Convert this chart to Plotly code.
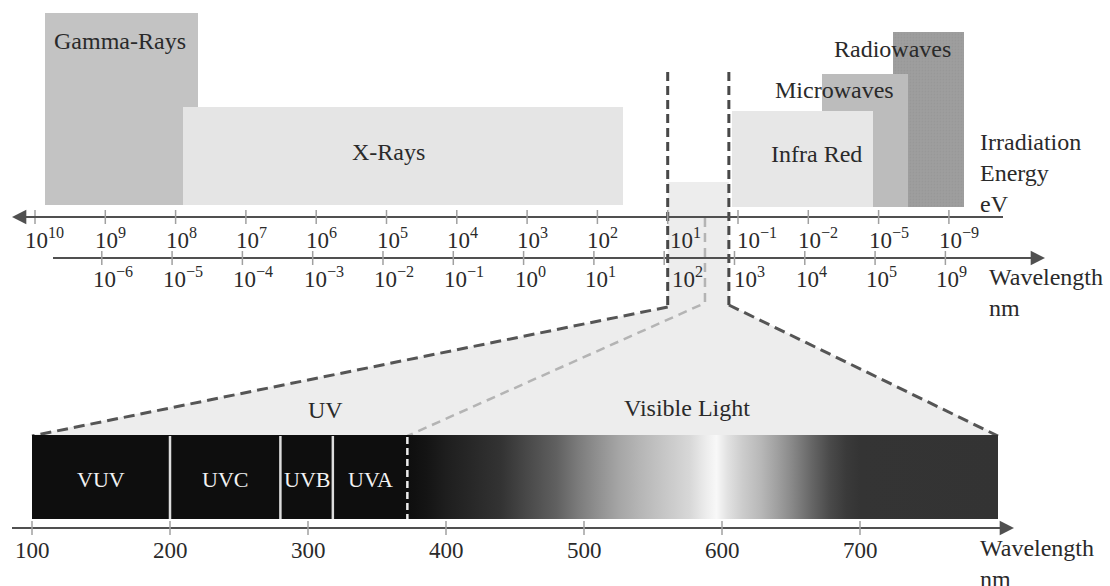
import plotly.graph_objects as go

W, H = 1110, 586

# ------------------------------------------------------------------ data
# upper scales: one tick per decade step (index 0..13)
energy_exponents = ["10", "9", "8", "7", "6", "5", "4", "3", "2", "1", "−1", "−2", "−5", "−9"]
wavelength_exponents = ["−6", "−5", "−4", "−3", "−2", "−1", "0", "1", "2", "3", "4", "5", "9"]

# spectral bands along the upper (tick index) scale
band_names = ["Gamma-Rays", "X-Rays", "Infra Red", "Microwaves", "Radiowaves"]
band_start = [0.14, 2.10, 9.91, 11.19, 12.20]
band_end = [2.32, 8.36, 11.92, 12.42, 13.21]

optical_window = [9.0, 9.87]      # UV + visible column on the upper scale
uv_visible_split = 9.53           # UV / visible boundary on the upper scale

# lower scale (nm)
nm_ticks = [100, 200, 300, 400, 500, 600, 700]
spectrum_range = [100, 800]
uv_names = ["VUV", "UVC", "UVB", "UVA"]
uv_edges = [100, 200, 280, 318, 372]

# brightness of the spectrum strip (0 = black, 255 = white)
grad_nm = [100, 372, 386, 400, 440, 460, 480, 495, 510, 525, 540, 560, 577, 588, 596,
           604, 615, 628, 640, 650, 665, 678, 690, 700, 800]
grad_gray = [14, 14, 20, 30, 51, 74, 96, 122, 144, 165, 181, 200, 216, 236, 248,
             226, 204, 184, 160, 138, 102, 74, 58, 52, 51]

# ------------------------------------------------------------------ layout / style
FONT = "Liberation Serif"
TXT = "#2a2a2a"
AX = "#505050"

XT_PX0, XT_STEP = 35.0, 70.3          # screen px of first upper tick, px per tick step
NM_PX0, NM_SCALE = 32.0, 1.38          # screen px of 100 nm, px per nm
xt_range = [(0 - XT_PX0) / XT_STEP, (W - XT_PX0) / XT_STEP]
xb_range = [100 - NM_PX0 / NM_SCALE, 100 + (W - NM_PX0) / NM_SCALE]


def nm_on_top(nm):
    f = (nm - xb_range[0]) / (xb_range[1] - xb_range[0])
    return xt_range[0] + f * (xt_range[1] - xt_range[0])


def top_from_px(px):
    return xt_range[0] + px / W * (xt_range[1] - xt_range[0])


def nm_from_px(px):
    return xb_range[0] + px / W * (xb_range[1] - xb_range[0])


band_style = {
    "Gamma-Rays": dict(top=13, bottom=205, color="#c3c3c3"),
    "X-Rays": dict(top=107, bottom=205, color="#e5e5e5"),
    "Infra Red": dict(top=111, bottom=207, color="#e7e7e7"),
    "Microwaves": dict(top=74, bottom=207, color="#bcbcbc"),
    "Radiowaves": dict(top=32, bottom=207, color="#9e9e9e"),
}
draw_order = ["Gamma-Rays", "X-Rays", "Radiowaves", "Microwaves", "Infra Red"]
band_label = {  # screen px of label, anchor
    "Gamma-Rays": (120, 41, "center"),
    "X-Rays": (389, 152, "center"),
    "Infra Red": (816, 154, "center"),
    "Microwaves": (896, 90, "right"),
    "Radiowaves": (953, 49, "right"),
}

Y_EAXIS, Y_WAXIS, Y_BAXIS = 217, 258, 528
BAR_TOP, BAR_BOT = 435, 519

fig = go.Figure()

# light optical window column + zoom trapezoid
w0, w1 = optical_window
fig.add_trace(go.Scatter(
    x=[w0, w1, w1, nm_on_top(spectrum_range[1]), nm_on_top(spectrum_range[0]), w0, w0],
    y=[182, 182, 305, BAR_TOP, BAR_TOP, 307, 182],
    fill="toself", fillcolor="#ededed", mode="lines", line=dict(width=0),
    xaxis="x", yaxis="y", hoverinfo="skip"))

# spectral bands
for name in draw_order:
    k = band_names.index(name)
    s = band_style[name]
    marker = dict(color=s["color"], line=dict(width=0))
    if name == "Radiowaves":
        marker["pattern"] = dict(shape=".", fgcolor="#929292", bgcolor=s["color"],
                                 size=3, solidity=0.3)
    fig.add_trace(go.Bar(
        x=[(band_start[k] + band_end[k]) / 2], width=[band_end[k] - band_start[k]],
        base=[s["bottom"]], y=[s["top"] - s["bottom"]],
        marker=marker, xaxis="x", yaxis="y", hoverinfo="skip"))

# dark dashed window borders and zoom lines
DASH_V = "9px,5px"
DASH_D = "11px,6px"
for xv, yb in [(w0, 307), (w1, 305)]:
    fig.add_trace(go.Scatter(x=[xv, xv], y=[72, yb], mode="lines",
                             line=dict(color="#484848", width=3, dash=DASH_V),
                             xaxis="x", yaxis="y", hoverinfo="skip"))
fig.add_trace(go.Scatter(x=[w0, nm_on_top(spectrum_range[0])], y=[307, BAR_TOP + 1], mode="lines",
                         line=dict(color="#555555", width=3, dash=DASH_D),
                         xaxis="x", yaxis="y", hoverinfo="skip"))
fig.add_trace(go.Scatter(x=[w1, nm_on_top(spectrum_range[1])], y=[305, BAR_TOP + 1], mode="lines",
                         line=dict(color="#555555", width=3, dash=DASH_D),
                         xaxis="x", yaxis="y", hoverinfo="skip"))
# light dashed UV / visible split
fig.add_trace(go.Scatter(x=[uv_visible_split, uv_visible_split, nm_on_top(uv_edges[-1])],
                         y=[218, 303, BAR_TOP + 1], mode="lines",
                         line=dict(color="#b4b4b4", width=2.5, dash="9px,6px"),
                         xaxis="x", yaxis="y", hoverinfo="skip"))

# axis lines of the upper scales
fig.add_trace(go.Scatter(x=[top_from_px(20), top_from_px(1003)], y=[Y_EAXIS, Y_EAXIS], mode="lines",
                         line=dict(color=AX, width=2.2), xaxis="x", yaxis="y", hoverinfo="skip"))
fig.add_trace(go.Scatter(x=[top_from_px(53), top_from_px(1036)], y=[Y_WAXIS, Y_WAXIS], mode="lines",
                         line=dict(color=AX, width=2.2), xaxis="x", yaxis="y", hoverinfo="skip"))

e_idx = list(range(len(energy_exponents)))
w_idx = [i + 1 - 0.05 for i in range(len(wavelength_exponents))]
fig.add_trace(go.Scatter(x=e_idx, y=[Y_EAXIS] * len(e_idx), mode="markers",
                         marker=dict(symbol="line-ns", size=10, line=dict(color="#a0a0a0", width=1.5)),
                         xaxis="x", yaxis="y", hoverinfo="skip"))
fig.add_trace(go.Scatter(x=w_idx, y=[Y_WAXIS] * len(w_idx), mode="markers",
                         marker=dict(symbol="line-ns", size=10, line=dict(color="#a0a0a0", width=1.5)),
                         xaxis="x", yaxis="y", hoverinfo="skip"))

# spectrum strip
cs = [[(n - spectrum_range[0]) / (spectrum_range[1] - spectrum_range[0]), f"rgb({g},{g},{g})"]
      for n, g in zip(grad_nm, grad_gray)]
a, b = spectrum_range
fig.add_trace(go.Scatter(
    x=[a, b, b, a, a], y=[BAR_TOP, BAR_TOP, BAR_BOT, BAR_BOT, BAR_TOP],
    fill="toself", mode="lines", line=dict(width=0),
    fillgradient=dict(type="horizontal", start=a, stop=b, colorscale=cs),
    xaxis="x2", yaxis="y", hoverinfo="skip"))
for e in uv_edges[1:-1]:
    fig.add_trace(go.Scatter(x=[e, e], y=[BAR_TOP + 1, BAR_BOT], mode="lines",
                             line=dict(color="#dddddd", width=2.5),
                             xaxis="x2", yaxis="y", hoverinfo="skip"))
fig.add_trace(go.Scatter(x=[uv_edges[-1]] * 2, y=[BAR_TOP + 2, BAR_BOT], mode="lines",
                         line=dict(color="#eeeeee", width=2.5, dash="7px,4px"),
                         xaxis="x2", yaxis="y", hoverinfo="skip"))

# bottom axis
fig.add_trace(go.Scatter(x=[nm_from_px(12), nm_from_px(1005)], y=[Y_BAXIS, Y_BAXIS], mode="lines",
                         line=dict(color=AX, width=2.2), xaxis="x2", yaxis="y", hoverinfo="skip"))
fig.add_trace(go.Scatter(x=nm_ticks, y=[Y_BAXIS] * len(nm_ticks), mode="markers",
                         marker=dict(symbol="line-ns", size=10, line=dict(color="#a0a0a0", width=1.5)),
                         xaxis="x2", yaxis="y", hoverinfo="skip"))

ann = []


def arrow(xref, x_tip, x_tail, y):
    ann.append(dict(xref=xref, yref="y", x=x_tip, y=y, axref=xref, ayref="y", ax=x_tail, ay=y,
                    text="", showarrow=True, arrowhead=2, arrowsize=1.3, arrowwidth=2.2,
                    arrowcolor=AX, standoff=0))


arrow("x", top_from_px(12), top_from_px(40), Y_EAXIS)
arrow("x", top_from_px(1045), top_from_px(1020), Y_WAXIS)
arrow("x2", nm_from_px(1014), nm_from_px(990), Y_BAXIS)


def text(px, py, s, size=24, anchor="center", color=TXT, align="center"):
    ann.append(dict(xref="paper", yref="paper", x=px / W, y=1 - py / H, text=s,
                    xanchor=anchor, yanchor="middle", showarrow=False, align=align,
                    font=dict(family=FONT, size=size, color=color)))


for name in band_names:
    px, py, anc = band_label[name]
    text(px, py, name, anchor=anc)

text(978, 173, "Irradiation<br>Energy<br>eV", anchor="left", align="left")
text(987, 292, "Wavelength<br>nm", anchor="left", align="left")
text(978, 563, "Wavelength<br>nm", anchor="left", align="left")
text(325, 410, "UV")
text(687, 408, "Visible Light")

e_shift = {"1": 0, "−1": -3}
for i, ex in zip(e_idx, energy_exponents):
    ann.append(dict(xref="x", yref="y", x=i, y=238, text=f"10<sup>{ex}</sup>",
                    xanchor="left", yanchor="middle", xshift=e_shift.get(ex, -12),
                    showarrow=False, font=dict(family=FONT, size=23, color=TXT)))
w_shift = {"2": 6, "3": -2}
for i, ex in zip(w_idx, wavelength_exponents):
    ann.append(dict(xref="x", yref="y", x=i, y=277, text=f"10<sup>{ex}</sup>",
                    xanchor="left", yanchor="middle", xshift=w_shift.get(ex, -11),
                    showarrow=False, font=dict(family=FONT, size=23, color=TXT)))
for t in nm_ticks:
    ann.append(dict(xref="x2", yref="y", x=t, y=550, text=str(t), xanchor="center",
                    yanchor="middle", showarrow=False, font=dict(family=FONT, size=23, color=TXT)))
for k, nm in enumerate(uv_names):
    ann.append(dict(xref="x2", yref="y", x=(uv_edges[k] + uv_edges[k + 1]) / 2, y=479, text=nm,
                    xanchor="center", yanchor="middle", showarrow=False,
                    font=dict(family=FONT, size=22, color="#f2f2f2")))

fig.update_layout(
    width=W, height=H, margin=dict(l=0, r=0, t=0, b=0),
    paper_bgcolor="white", plot_bgcolor="white",
    showlegend=False, hovermode=False, barmode="overlay", bargap=0,
    xaxis=dict(range=xt_range, visible=False, fixedrange=True),
    xaxis2=dict(range=xb_range, overlaying="x", visible=False, fixedrange=True),
    yaxis=dict(range=[H, 0], visible=False, fixedrange=True),
    annotations=ann,
)

fig.write_html("out.html", config={"displayModeBar": False},
               post_script="document.body.style.margin='0px';document.body.style.overflow='hidden';")
